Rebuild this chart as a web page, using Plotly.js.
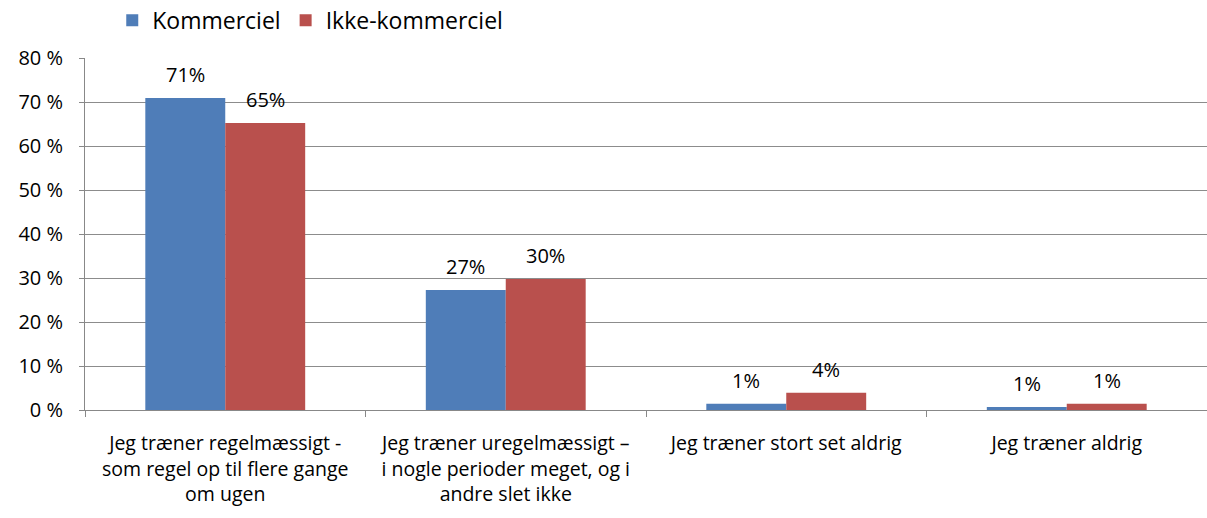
<!DOCTYPE html>
<html>
<head>
<meta charset="utf-8">
<script src="https://cdn.plot.ly/plotly-3.0.1.min.js"></script>
<style>html,body{margin:0;padding:0;background:#fff;}#chart{width:1207px;height:518px;}</style>
</head>
<body>
<div id="chart"></div>
<script>
const categories = [
  "Jeg træner regelmæssigt -<br>som regel op til flere gange<br>om ugen",
  "Jeg træner uregelmæssigt –<br>i nogle perioder meget, og i<br>andre slet ikke",
  "Jeg træner stort set aldrig",
  "Jeg træner aldrig"
];
const seriesNames = ["Kommerciel", "Ikke-kommerciel"];
const kommerciel = [70.9, 27.3, 1.4, 0.7];
const ikkeKommerciel = [65.2, 29.8, 3.9, 1.4];
const yTicks = [0, 10, 20, 30, 40, 50, 60, 70, 80];
const colors = ["#4F7DB8", "#B9504D"];

const FONT = "'Open Sans', Lato, sans-serif";
const series = [kommerciel, ikkeKommerciel];

const traces = series.map((vals, i) => ({
  type: "bar",
  name: seriesNames[i],
  x: categories,
  y: vals,
  marker: { color: colors[i] },
  hoverinfo: "none"
}));

const annotations = [];
series.forEach((vals, i) => {
  vals.forEach((v, j) => {
    annotations.push({
      x: categories[j], y: v, xref: "x", yref: "y",
      text: Math.round(v) + "%",
      showarrow: false, yanchor: "bottom",
      xshift: (i === 0 ? -40 : 40), yshift: 8,
      font: { family: FONT, size: 20, color: "#000" }
    });
  });
});

const layout = {
  width: 1207, height: 518,
  margin: { l: 85, r: 0, t: 58, b: 108 },
  paper_bgcolor: "#fff", plot_bgcolor: "#fff",
  barmode: "group", bargap: 0.43, bargroupgap: 0,
  font: { family: FONT, size: 19.5, color: "#000" },
  showlegend: true,
  legend: {
    orientation: "h", x: 0.093, xref: "container", xanchor: "left",
    y: 0.961, yref: "container", yanchor: "middle",
    font: { family: FONT, size: 23, color: "#000" },
    itemwidth: 30, tracegroupgap: 0, traceorder: "normal"
  },
  xaxis: {
    type: "category",
    tickson: "boundaries",
    ticks: "outside", ticklen: 6, tickcolor: "#888", tickwidth: 1,
    showline: true, linecolor: "#888", linewidth: 1,
    showgrid: false, zeroline: false,
    tickfont: { family: FONT, size: 19.5, color: "#000" },
    ticklabelstandoff: 16,
    fixedrange: true
  },
  yaxis: {
    range: [0, 80],
    tickvals: yTicks,
    ticktext: yTicks.map(t => t + " %"),
    ticks: "outside", ticklen: 5, tickcolor: "#888",
    showline: true, linecolor: "#888", linewidth: 1,
    showgrid: true, gridcolor: "#8c8c8c", gridwidth: 1,
    zeroline: false,
    tickfont: { family: FONT, size: 20, color: "#000" },
    ticklabelstandoff: 12,
    fixedrange: true
  },
  annotations: annotations
};

Plotly.newPlot("chart", traces, layout, { displayModeBar: false, staticPlot: true });
</script>
</body>
</html>
